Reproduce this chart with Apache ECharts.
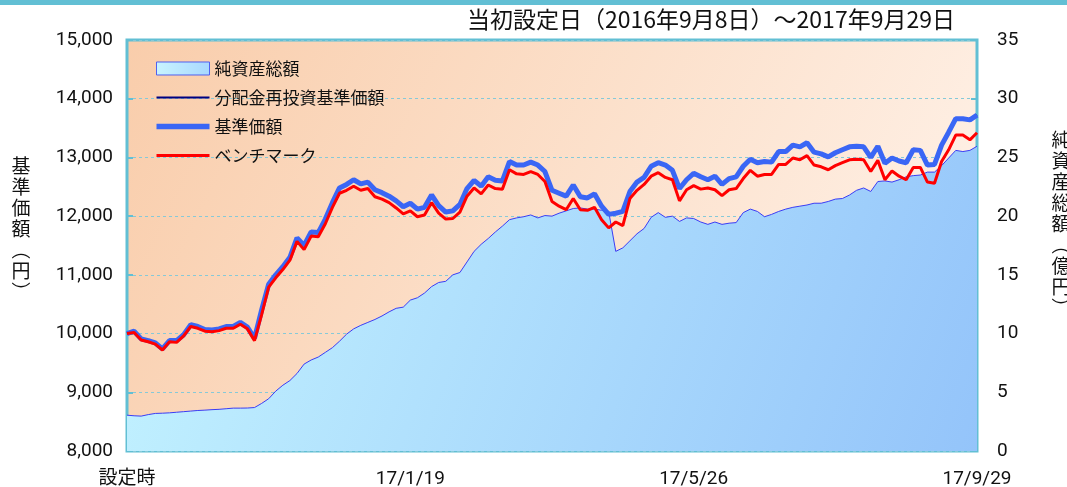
<!DOCTYPE html>
<html><head><meta charset="utf-8">
<script src="https://cdn.jsdelivr.net/npm/echarts@6/dist/echarts.min.js"></script>
<style>html,body{margin:0;padding:0;background:#fff}#c{width:1067px;height:487px}</style>
</head><body><div id="c"></div>
<script>
// x positions: tick indices and their labels
const tickIndex = [0, 40, 80, 120];
const tickLabels = ['設定時', '17/1/19', '17/5/26', '17/9/29'];

// 基準価額 (円)
const nav = [
10000,10040,9910,9880,9840,9740,9880,9880,9980,10150,
10120,10070,10060,10080,10120,10120,10190,10110,9920,10400,
10840,11000,11140,11300,11630,11500,11730,11720,11950,12230,
12480,12540,12620,12550,12580,12450,12400,12340,12260,12160,
12220,12120,12150,12360,12180,12070,12090,12200,12470,12610,
12510,12670,12610,12600,12930,12870,12870,12920,12870,12760,
12440,12390,12340,12530,12330,12310,12380,12170,12030,12050,
12080,12420,12580,12660,12850,12910,12870,12780,12470,12620,
12730,12670,12620,12680,12540,12640,12670,12850,12970,12910,
12930,12920,13100,13100,13210,13180,13250,13090,13060,13010,
13080,13130,13180,13190,13180,13000,13190,12900,12990,12940,
12910,13130,13120,12870,12880,13210,13430,13660,13660,13640,
13720];

// 分配金再投資基準価額 (円) – no distributions, coincides with 基準価額
const navReinvest = [
10000,10040,9910,9880,9840,9740,9880,9880,9980,10150,
10120,10070,10060,10080,10120,10120,10190,10110,9920,10400,
10840,11000,11140,11300,11630,11500,11730,11720,11950,12230,
12480,12540,12620,12550,12580,12450,12400,12340,12260,12160,
12220,12120,12150,12360,12180,12070,12090,12200,12470,12610,
12510,12670,12610,12600,12930,12870,12870,12920,12870,12760,
12440,12390,12340,12530,12330,12310,12380,12170,12030,12050,
12080,12420,12580,12660,12850,12910,12870,12780,12470,12620,
12730,12670,12620,12680,12540,12640,12670,12850,12970,12910,
12930,12920,13100,13100,13210,13180,13250,13090,13060,13010,
13080,13130,13180,13190,13180,13000,13190,12900,12990,12940,
12910,13130,13120,12870,12880,13210,13430,13660,13660,13640,
13720];

// ベンチマーク
const benchmark = [
10000,10020,9890,9860,9820,9720,9860,9850,9960,10120,
10090,10040,10030,10050,10090,10090,10160,10080,9880,10320,
10790,10950,11090,11250,11570,11430,11660,11650,11870,12150,
12390,12440,12510,12440,12470,12330,12290,12230,12140,12040,
12090,11990,12020,12230,12050,11950,11960,12070,12340,12480,
12380,12530,12470,12460,12790,12720,12710,12760,12710,12590,
12250,12170,12110,12300,12110,12100,12150,11940,11800,11900,
11840,12300,12440,12540,12680,12740,12660,12620,12260,12450,
12520,12460,12480,12450,12350,12450,12470,12640,12780,12680,
12710,12710,12880,12880,12990,12960,13030,12870,12840,12790,
12860,12910,12960,12970,12960,12760,12950,12620,12770,12680,
12620,12830,12830,12580,12560,12930,13130,13380,13380,13300,
13420];

// 純資産総額 (億円)
const netAssets = [
3.05,3.0,2.97,3.1,3.2,3.22,3.25,3.3,3.35,3.4,
3.45,3.48,3.52,3.55,3.6,3.65,3.65,3.66,3.7,4.05,
4.45,5.1,5.6,6.0,6.6,7.4,7.75,8.0,8.4,8.8,
9.35,9.95,10.4,10.7,10.95,11.2,11.5,11.85,12.15,12.25,
12.85,13.05,13.45,14.0,14.35,14.45,15.0,15.2,16.1,17.0,
17.6,18.1,18.65,19.15,19.7,19.85,19.95,20.1,19.85,20.05,
20.0,20.25,20.45,20.65,20.7,20.6,20.6,20.5,20.4,17.0,
17.3,17.9,18.5,18.95,19.9,20.3,19.9,20.0,19.55,19.85,
19.8,19.5,19.3,19.5,19.3,19.4,19.45,20.3,20.6,20.4,
19.95,20.15,20.4,20.6,20.75,20.85,20.95,21.1,21.1,21.25,
21.45,21.5,21.8,22.2,22.4,22.1,22.95,23.0,22.9,23.1,
23.35,23.45,23.5,23.75,23.75,24.3,24.95,25.6,25.5,25.6,
25.95];

const leftName = '基準価額︵円︶';
const rightName = '純資産総額︵億円︶';

const categories = nav.map((_, i) => String(i));
const labelFor = {};
tickIndex.forEach((t, k) => { labelFor[t] = tickLabels[k]; });

const JP = '"Noto Sans CJK JP", sans-serif';
const NUM = 'Roboto, "Noto Sans CJK JP", sans-serif';
const TEAL = '#62bfd4';

function verticalText(str, cx, cy0, step) {
  return Array.from(str).map((ch, k) => ({
    type: 'text', x: cx, y: cy0 + k * step,
    style: { text: ch, font: '19px ' + JP, fill: '#111', align: 'center', verticalAlign: 'middle' }
  }));
}

const areaGrad = new echarts.graphic.LinearGradient(0, 0, 1, 1, [
  { offset: 0, color: '#c4f4ff' }, { offset: 1, color: '#94c4fa' }]);
const bgGrad = new echarts.graphic.LinearGradient(0, 0, 1, 1, [
  { offset: 0, color: '#f9cdab' }, { offset: 1, color: '#fff4ec' }]);
const legendGrad = new echarts.graphic.LinearGradient(0, 0, 1, 0, [
  { offset: 0, color: '#c8f4ff' }, { offset: 1, color: '#a8d8ff' }]);

const chart = echarts.init(document.getElementById('c'), null, { renderer: 'canvas' });
chart.setOption({
  animation: false,
  backgroundColor: '#fff',
  grid: {
    left: 127, right: 90, top: 40, bottom: 36,
    outerBoundsMode: 'none', containLabel: false,
    show: true, backgroundColor: bgGrad, borderColor: TEAL, borderWidth: 3
  },
  graphic: [
    { type: 'rect', left: 0, top: 0, shape: { width: 1067, height: 5 }, style: { fill: TEAL }, z: 10 },
    { type: 'text', left: 467, top: 8, style: { text: '当初設定日（2016年9月8日）～2017年9月29日', font: '23px ' + JP, fill: '#111' } }
  ].concat(verticalText(leftName, 21, 166, 21), verticalText(rightName, 1061, 140, 21)),
  legend: {
    orient: 'vertical', left: 151, top: 55, itemGap: 12, itemWidth: 53, itemHeight: 13,
    symbolKeepAspect: true,
    textStyle: { fontSize: 17, fontFamily: JP, color: '#111' },
    data: [
      { name: '純資産総額', icon: 'rect', itemStyle: { color: legendGrad, borderColor: '#5060f0', borderWidth: 1 } },
      { name: '分配金再投資基準価額', icon: 'path://M0,0H53V2.2H0Z' },
      { name: '基準価額', icon: 'path://M0,0H53V5.5H0Z' },
      { name: 'ベンチマーク', icon: 'path://M0,0H53V3H0Z' }
    ]
  },
  xAxis: {
    type: 'category', data: categories, boundaryGap: false,
    axisLine: { show: false },
    axisTick: { show: true, inside: true, length: 6, lineStyle: { color: TEAL, width: 2 },
      interval: (i) => i !== 0 && i !== 120 && labelFor[i] !== undefined },
    axisLabel: { interval: (i) => labelFor[i] !== undefined, formatter: (v, i) => labelFor[i] || '',
      fontSize: 19, fontFamily: NUM, color: '#111', margin: 19 },
    splitLine: { show: false }
  },
  yAxis: [
    { type: 'value', min: 8000, max: 15000, interval: 1000,
      axisLine: { show: false },
      axisTick: { show: true, inside: true, length: 6, lineStyle: { color: TEAL, width: 2 } },
      axisLabel: { fontSize: 19, fontFamily: NUM, color: '#111', margin: 14,
        formatter: (v) => v.toLocaleString('en-US') },
      splitLine: { show: true, lineStyle: { color: '#86c9d8', width: 1, type: [3, 3] } } },
    { type: 'value', min: 0, max: 35, interval: 5,
      axisLine: { show: false },
      axisTick: { show: true, inside: true, length: 6, lineStyle: { color: TEAL, width: 2 } },
      axisLabel: { fontSize: 19, fontFamily: NUM, color: '#111', margin: 20 },
      splitLine: { show: false } }
  ],
  series: [
    { name: '純資産総額', type: 'line', yAxisIndex: 1, data: netAssets, symbol: 'none', z: 1,
      lineStyle: { color: '#3a3cf5', width: 1 }, itemStyle: { color: '#3a3cf5' },
      areaStyle: { color: areaGrad, opacity: 1 } },
    { name: '分配金再投資基準価額', type: 'line', data: navReinvest, symbol: 'none', z: 2,
      lineStyle: { color: '#000080', width: 2 }, itemStyle: { color: '#000080' } },
    { name: '基準価額', type: 'line', data: nav, symbol: 'none', z: 3,
      lineStyle: { color: '#3a66f5', width: 5 }, itemStyle: { color: '#3a66f5' } },
    { name: 'ベンチマーク', type: 'line', data: benchmark, symbol: 'none', z: 4,
      lineStyle: { color: '#ff0000', width: 3 }, itemStyle: { color: '#ff0000' } }
  ]
});
</script>
</body></html>
